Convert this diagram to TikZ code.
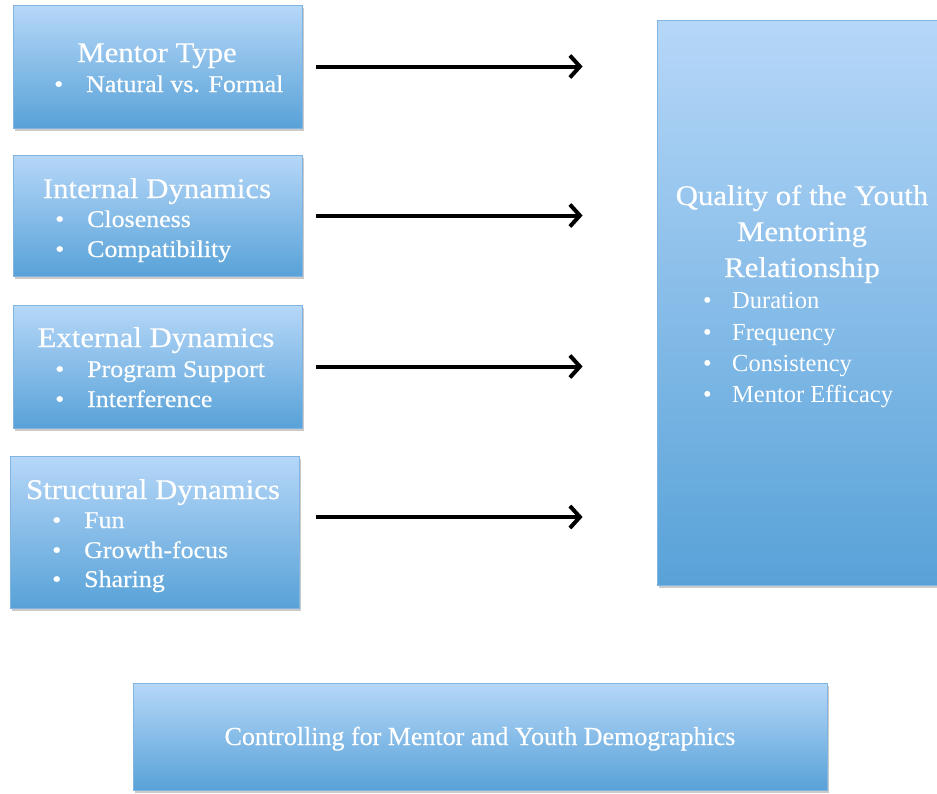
\documentclass[tikz,border=0pt]{standalone}
\usepackage{fontspec}
\setmainfont{Liberation Serif}
\newfontfamily\cam{Liberation Serif}[FakeStretch=1.08,FakeBold=0.4]
\newfontfamily\camn{Liberation Serif}[FakeStretch=1.0,FakeBold=0.4]
\usetikzlibrary{arrows.meta,shadows}
\definecolor{boxtop}{RGB}{182,215,248}
\definecolor{boxbot}{RGB}{88,162,216}
\definecolor{boxline}{RGB}{130,180,225}
\newcommand\bulA{\makebox[32pt][l]{\textbullet}}
\newcommand\bulB{\makebox[29pt][l]{\textbullet}}
\tikzset{
  bluebox/.style={draw=boxline, line width=0.8pt, top color=boxtop, bottom color=boxbot,
    rectangle, inner sep=0pt,
    drop shadow={shadow xshift=2pt, shadow yshift=-3pt, opacity=0.35, fill=black!60}},
  ttl/.style={text=white, inner sep=0pt, anchor=base, font=\cam\fontsize{28.5}{30}\selectfont},
  itm/.style={text=white, inner sep=0pt, anchor=base west, font=\cam\fontsize{24}{26}\selectfont},
  qitm/.style={text=white, inner sep=0pt, anchor=base west, font=\fontsize{24.5}{26}\selectfont},
  arr/.style={line width=4pt, -{Straight Barb[length=10pt,width=22pt,line width=4pt]}}
}
\begin{document}
\begin{tikzpicture}[x=1pt,y=-1pt]
\useasboundingbox (0,0) rectangle (937,793);
% boxes
\node[bluebox, minimum width=289pt, minimum height=123pt] (m1) at (157.5,66.5) {};
\node[bluebox, minimum width=289pt, minimum height=121pt] (m2) at (157.5,215.5) {};
\node[bluebox, minimum width=289pt, minimum height=123pt] (m3) at (157.5,366.5) {};
\node[bluebox, minimum width=289pt, minimum height=152pt] (m4) at (154.5,532) {};
\node[bluebox, minimum width=300pt, minimum height=565pt] (q) at (807,302.5) {};
\node[bluebox, minimum width=694pt, minimum height=107pt] (c) at (480,736.5) {};
% box 1
\node[ttl] (t1) at (157,62) {Mentor Type};
\node[itm] (i11) at (54,92) {\bulA Natural vs. Formal};
% box 2
\node[ttl] (t2) at (157,198) {Internal Dynamics};
\node[itm] (i21) at (55,227) {\bulA Closeness};
\node[itm] (i22) at (55,257) {\bulA Compatibility};
% box 3
\node[ttl] (t3) at (156,347) {External Dynamics};
\node[itm] (i31) at (55,377) {\bulA Program Support};
\node[itm] (i32) at (55,407) {\bulA Interference};
% box 4
\node[ttl] (t4) at (153,499) {Structural Dynamics};
\node[itm] (i41) at (52,528) {\bulA Fun};
\node[itm] (i42) at (52,558) {\bulA Growth-focus};
\node[itm] (i43) at (52,587) {\bulA Sharing};
% right box
\node[ttl] (q1) at (802,205) {Quality of the Youth};
\node[ttl] (q2) at (802,241) {Mentoring};
\node[ttl] (q3) at (802,277) {Relationship};
\node[qitm] (qa) at (703,308) {\bulB Duration};
\node[qitm] (qb) at (703,340) {\bulB Frequency};
\node[qitm] (qc) at (703,371) {\bulB Consistency};
\node[qitm] (qd) at (703,402) {\bulB Mentor Efficacy};
% bottom box
\node[text=white, inner sep=0pt, anchor=base, font=\camn\fontsize{26}{28}\selectfont] (ct) at (480,745) {Controlling for Mentor and Youth Demographics};
% arrows
\coordinate (a4) at (299,517);
\draw[arr, shorten <=14pt, shorten >=74pt] (m1.east) -- (m1.east -| q.west);
\draw[arr, shorten <=14pt, shorten >=74pt] (m2.east) -- (m2.east -| q.west);
\draw[arr, shorten <=14pt, shorten >=74pt] (m3.east) -- (m3.east -| q.west);
\draw[arr, shorten <=17pt, shorten >=74pt] (a4) -- (a4 -| q.west);
\end{tikzpicture}
\end{document}
